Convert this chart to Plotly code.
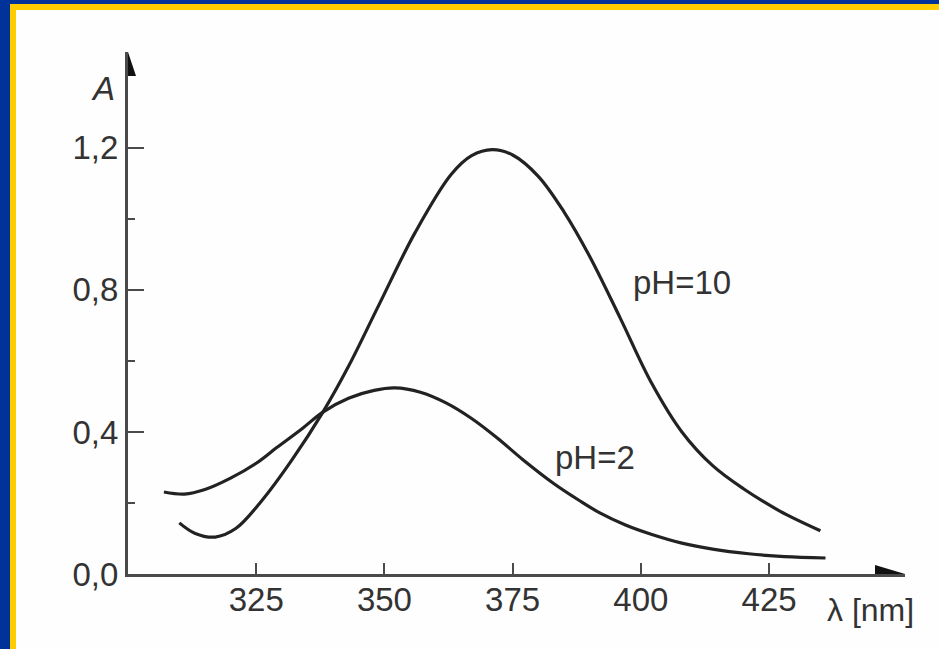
import plotly.graph_objects as go

# ---- data ----
wl_ph10 = [310, 313, 317, 321, 326, 332, 338, 343, 349, 356, 363, 367, 371, 375, 380, 385,
           390, 396, 402, 408, 414, 420, 427, 435]
a_ph10 = [0.144, 0.115, 0.104, 0.128, 0.205, 0.322, 0.456, 0.585, 0.760, 0.962, 1.125, 1.178, 1.195, 1.180, 1.120, 1.020,
          0.895, 0.720, 0.540, 0.400, 0.305, 0.240, 0.178, 0.122]

wl_ph2 = [307, 311, 315, 320, 325, 329, 334, 338, 343, 348, 352, 357, 362, 367, 372, 377,
          383, 388, 392, 397, 402, 408, 414, 421, 428, 436]
a_ph2 = [0.231, 0.225, 0.238, 0.270, 0.312, 0.356, 0.410, 0.456, 0.495, 0.517, 0.524, 0.512, 0.482, 0.438, 0.383, 0.322,
         0.255, 0.207, 0.172, 0.138, 0.112, 0.087, 0.070, 0.057, 0.049, 0.045]

x_ticks = [325, 350, 375, 400, 425]
y_ticks = [0.0, 0.4, 0.8, 1.2]
y_tick_text = ["0,0", "0,4", "0,8", "1,2"]
y_minor = [0.2, 0.6, 1.0]

# ---- layout geometry ----
W, H = 939, 649
L, R, T, B = 128, 34, 52, 75
X_RANGE = [300, 451.5]
Y_RANGE = [0, 1.47]

AXIS_COL = "#4a4a4a"
CURVE_COL = "#222222"
TEXT_COL = "#333333"
FONT = "Liberation Sans, Arial, sans-serif"
BLUE = "#003399"
YELLOW = "#FFCC00"

plot_w = W - L - R
plot_h = H - T - B


def px_x(p):
    return (p - L) / plot_w


def px_y(p):
    return 1 - (p - T) / plot_h


fig = go.Figure()
for wl, a in [(wl_ph10, a_ph10), (wl_ph2, a_ph2)]:
    fig.add_trace(go.Scatter(x=wl, y=a, mode="lines",
                             line=dict(color=CURVE_COL, width=3.2, shape="spline", smoothing=1.0),
                             showlegend=False, hoverinfo="skip"))

shapes = []
# arrowheads at ends of the axes
xs = (X_RANGE[1] - X_RANGE[0]) / plot_w   # data units per px
ys = (Y_RANGE[1] - Y_RANGE[0]) / plot_h
tipy = Y_RANGE[1]
shapes.append(dict(type="path", xref="x", yref="y",
                   path=f"M {X_RANGE[0]} {tipy} L {X_RANGE[0]-8*xs} {tipy-24*ys} L {X_RANGE[0]+8*xs} {tipy-24*ys} Z",
                   fillcolor="#111111", line=dict(width=0)))
tipx = X_RANGE[1]
shapes.append(dict(type="path", xref="x", yref="y",
                   path=f"M {tipx} {Y_RANGE[0]} L {tipx-30*xs} {Y_RANGE[0]+9*ys} L {tipx-30*xs} {Y_RANGE[0]-9*ys} Z",
                   fillcolor="#111111", line=dict(width=0)))
# frame borders (top and left)
shapes.append(dict(type="rect", xref="paper", yref="paper", x0=px_x(0), x1=px_x(W), y0=px_y(0), y1=px_y(4),
                   fillcolor=BLUE, line=dict(width=0), layer="above"))
shapes.append(dict(type="rect", xref="paper", yref="paper", x0=px_x(10), x1=px_x(W), y0=px_y(4), y1=px_y(10),
                   fillcolor=YELLOW, line=dict(width=0), layer="above"))
shapes.append(dict(type="rect", xref="paper", yref="paper", x0=px_x(0), x1=px_x(10), y0=px_y(0), y1=px_y(H),
                   fillcolor=BLUE, line=dict(width=0), layer="above"))
shapes.append(dict(type="rect", xref="paper", yref="paper", x0=px_x(10), x1=px_x(16), y0=px_y(4), y1=px_y(H),
                   fillcolor=YELLOW, line=dict(width=0), layer="above"))

ann_font = dict(size=33, color=TEXT_COL, family=FONT)
annotations = [
    dict(text="pH=10", x=408.0, y=0.82, xref="x", yref="y", showarrow=False,
         xanchor="center", yanchor="middle", font=ann_font),
    dict(text="pH=2", x=391.1, y=0.327, xref="x", yref="y", showarrow=False,
         xanchor="center", yanchor="middle", font=ann_font),
    dict(text="<i>A</i>", x=px_x(103), y=px_y(88), xref="paper", yref="paper", showarrow=False,
         xanchor="center", yanchor="middle", font=ann_font),
    dict(text="λ [nm]", x=px_x(870), y=px_y(610), xref="paper", yref="paper", showarrow=False,
         xanchor="center", yanchor="middle", font=dict(size=32, color=TEXT_COL, family=FONT)),
]

fig.update_layout(
    width=W, height=H,
    margin=dict(l=L, r=R, t=T, b=B),
    paper_bgcolor="#fefefe", plot_bgcolor="#fefefe",
    shapes=shapes, annotations=annotations,
    xaxis=dict(range=X_RANGE, showgrid=False, zeroline=False, showline=True, linecolor=AXIS_COL, linewidth=3,
               tickvals=x_ticks, ticks="inside", ticklen=11, tickwidth=2, tickcolor=AXIS_COL,
               ticklabelstandoff=-6,
               tickfont=dict(size=33, color=TEXT_COL, family=FONT)),
    yaxis=dict(range=Y_RANGE, showgrid=False, zeroline=False, showline=True, linecolor=AXIS_COL, linewidth=3,
               tickvals=y_ticks, ticktext=y_tick_text, ticks="inside", ticklen=16, tickwidth=2, tickcolor=AXIS_COL,
               tickfont=dict(size=33, color=TEXT_COL, family=FONT),
               minor=dict(tickvals=y_minor, ticks="inside", ticklen=7, tickwidth=2, tickcolor=AXIS_COL)),
)

fig.write_html("out.html")
